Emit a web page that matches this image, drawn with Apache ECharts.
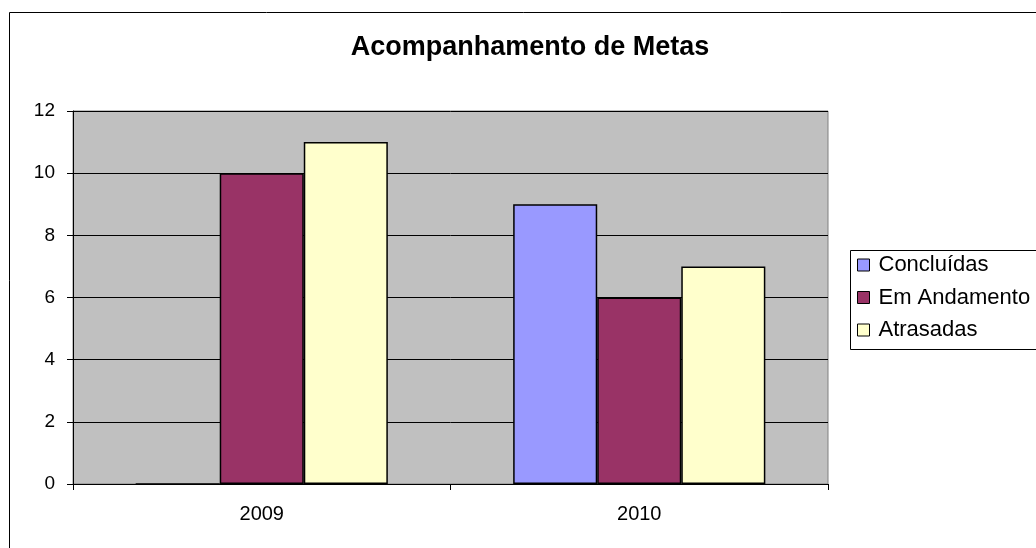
<!DOCTYPE html>
<html>
<head>
<meta charset="utf-8">
<script src="https://cdn.jsdelivr.net/npm/echarts@6/dist/echarts.min.js"></script>
<style>
    html, body { margin: 0; padding: 0; background: #fff; }
    #chart { width: 1036px; height: 548px; }
</style>
</head>
<body>
<div id="chart"></div>
<script>
    var years = ['2009', '2010'];
    var concluidas = [0, 9];
    var emAndamento = [10, 6];
    var atrasadas = [11, 7];
    var yTicks = { min: 0, max: 12, interval: 2 };

    var font = "'Liberation Sans', Arial, sans-serif";

    function bar(name, data, color) {
        return {
            name: name,
            type: 'bar',
            data: data,
            barGap: '0%',
            barCategoryGap: '33.2%',
            itemStyle: { color: color, borderColor: '#000', borderWidth: 1.5 }
        };
    }

    var chart = echarts.init(document.getElementById('chart'));
    chart.setOption({
        animation: false,
        backgroundColor: '#fff',
        textStyle: { fontFamily: font, color: '#000' },
        title: {
            text: 'Acompanhamento de Metas',
            left: 530,
            textAlign: 'center',
            top: 34,
            padding: 0,
            textStyle: { fontFamily: font, fontSize: 27, fontWeight: 'bold', color: '#000' }
        },
        legend: {
            orient: 'vertical',
            left: 857,
            top: 254,
            padding: 0,
            itemGap: 10.5,
            itemWidth: 12,
            itemHeight: 12,
            icon: 'rect',
            itemStyle: { borderColor: '#000', borderWidth: 1 },
            textStyle: { fontFamily: font, fontSize: 22, color: '#000', padding: [0, 0, 0, 4] },
            data: ['Concluídas', 'Em Andamento', 'Atrasadas']
        },
        graphic: [
            { type: 'rect', left: 7, top: 10, shape: { width: 1100, height: 600 },
              style: { fill: 'none', stroke: '#000', lineWidth: 1 }, silent: true },
            { type: 'rect', left: 848, top: 248, shape: { width: 300, height: 99 },
              style: { fill: 'none', stroke: '#000', lineWidth: 1 }, silent: true }
        ],
        grid: {
            left: 73, top: 111, right: 208, bottom: 64,
            show: true,
            backgroundColor: '#c0c0c0',
            borderColor: '#808080',
            borderWidth: 1
        },
        xAxis: {
            type: 'category',
            data: years,
            axisLine: { lineStyle: { color: '#000', width: 1 } },
            axisTick: { show: true, length: 6, lineStyle: { color: '#000' } },
            axisLabel: { fontFamily: font, fontSize: 20, color: '#000', margin: 20 },
            splitLine: { show: false }
        },
        yAxis: {
            type: 'value',
            min: yTicks.min,
            max: yTicks.max,
            interval: yTicks.interval,
            axisLine: { show: true, lineStyle: { color: '#000', width: 1 } },
            axisTick: { show: true, length: 6, lineStyle: { color: '#000' } },
            axisLabel: { fontFamily: font, fontSize: 19, color: '#000', margin: 18 },
            splitLine: { show: true, lineStyle: { color: '#000', width: 1 } }
        },
        series: [
            bar('Concluídas', concluidas, '#9999ff'),
            bar('Em Andamento', emAndamento, '#993366'),
            bar('Atrasadas', atrasadas, '#ffffcc')
        ]
    });
</script>
</body>
</html>
